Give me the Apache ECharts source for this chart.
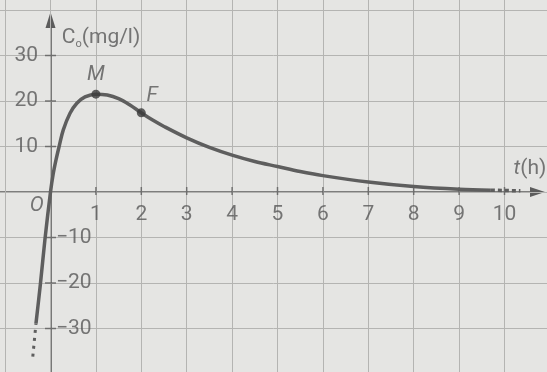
<!DOCTYPE html>
<html>
<head>
<meta charset="utf-8">
<script src="https://cdn.jsdelivr.net/npm/echarts@6/dist/echarts.min.js"></script>
<style>
  html, body { margin: 0; padding: 0; background: #e5e5e3; }
  #chart { width: 547px; height: 372px; }
</style>
</head>
<body>
<div id="chart"></div>
<script>
// curve C(t)
const curveT = [-0.32, -0.22, -0.12, 0, 0.06, 0.12, 0.19, 0.28, 0.43, 0.58, 0.76, 1.0, 1.25, 1.5, 1.75, 2.0, 2.25, 2.5, 3.0, 3.5, 4, 4.5, 5, 5.5, 6, 7, 8, 9, 9.7]
const curveC = [-28.9, -20.0, -10.2, 0, 4.0, 7.0, 10.0, 13.6, 17.3, 19.5, 20.9, 21.5, 21.3, 20.5, 19.1, 17.4, 15.8, 14.4, 11.9, 9.8, 8.1, 6.7, 5.6, 4.5, 3.6, 2.2, 1.2, 0.6, 0.4]
// dotted continuations
const leftDotT = [-0.39, -0.32]
const leftDotC = [-36.2, -28.9]
const rightDotT = [9.7, 10.35]
const rightDotC = [0.4, 0.25]

// marked points
const pointNames = ['M', 'F']
const pointT = [1.0, 2.0]
const pointC = [21.5, 17.4]

// tick labels
const xTicks = [1, 2, 3, 4, 5, 6, 7, 8, 9, 10]
const yTicksPos = [10, 20, 30]
const yTicksNeg = [-10, -20, -30]

// grid lines of the squared paper
const gridT = [-1, 0, 1, 2, 3, 4, 5, 6, 7, 8, 9, 10]
const gridC = [-30, -20, -10, 0, 10, 20, 30, 40]

// text annotations
const annoText = ['M', 'F', 'O']
const annoT = [1.0, 2.24, -0.3]
const annoC = [25.8, 21.1, -3.1]

const toPairs = (xs, ys) => xs.map((x, i) => [x, ys[i]])

const textColor = '#585858'
const lineColor = '#5c5c5c'
const font = 'Roboto'

// pixel scale of the figure: origin at (50.5, 192), 45.4 px per hour, 4.55 px per mg/l
const ox = 50.5, oy = 192, sx = 45.4, sy = 4.55

const chart = echarts.init(document.getElementById('chart'))

const option = {
  backgroundColor: '#e5e5e3',
  animation: false,
  grid: [
    { left: 0, top: 0, width: 547, height: 372, outerBoundsMode: 'none' },
    { left: 0, top: 20, width: 537.5, height: 352, outerBoundsMode: 'none' }
  ],
  xAxis: [
    {
      gridIndex: 0, type: 'value', min: -ox / sx, max: (547 - ox) / sx,
      axisLine: { show: false }, axisTick: { show: false }, axisLabel: { show: false }, splitLine: { show: false }
    },
    {
      gridIndex: 1, type: 'value', min: -ox / sx, max: (537.5 - ox) / sx,
      axisLine: { onZero: true, symbol: ['none', 'triangle'], symbolSize: [10, 15], lineStyle: { color: lineColor, width: 1.6 } },
      axisTick: { show: false }, axisLabel: { show: false }, splitLine: { show: false }
    }
  ],
  yAxis: [
    {
      gridIndex: 0, type: 'value', min: -(372 - oy) / sy, max: oy / sy,
      axisLine: { show: false }, axisTick: { show: false }, axisLabel: { show: false }, splitLine: { show: false }
    },
    {
      gridIndex: 1, type: 'value', min: -(372 - oy) / sy, max: (oy - 20) / sy,
      axisLine: { onZero: true, symbol: ['none', 'triangle'], symbolSize: [10, 16], lineStyle: { color: lineColor, width: 1.6 } },
      axisTick: { show: false }, axisLabel: { show: false }, splitLine: { show: false }
    }
  ],
  series: [
    {
      type: 'line',
      data: toPairs(curveT, curveC),
      smooth: 0.35,
      symbol: 'none',
      lineStyle: { color: '#5e5e5e', width: 3.5 },
      markLine: {
        silent: true,
        symbol: 'none',
        label: { show: false },
        lineStyle: { color: '#b4b4b2', width: 1, type: 'solid' },
        data: gridT.map(t => ({ xAxis: t })).concat(gridC.map(c => ({ yAxis: c }))),
        z: 1
      },
      z: 5
    },
    {
      type: 'line',
      data: toPairs(leftDotT, leftDotC),
      symbol: 'none',
      lineStyle: { color: '#5e5e5e', width: 3, type: [3, 5] },
      z: 5
    },
    {
      type: 'line',
      data: toPairs(rightDotT, rightDotC),
      symbol: 'none',
      lineStyle: { color: '#5e5e5e', width: 3.5, type: [4, 3] },
      z: 5
    },
    {
      // points M and F
      type: 'scatter',
      data: toPairs(pointT, pointC),
      symbol: 'circle',
      symbolSize: 9,
      itemStyle: { color: '#3a3a3a' },
      z: 6
    },
    {
      // x ticks
      type: 'scatter',
      data: xTicks.map(t => [t, 0]),
      symbol: 'rect',
      symbolSize: [1.5, 8],
      symbolOffset: [0, -1],
      itemStyle: { color: lineColor },
      label: {
        show: true, position: 'bottom', distance: 9,
        formatter: p => String(p.value[0]),
        color: textColor, fontSize: 21, fontFamily: font
      },
      z: 4
    },
    {
      // y ticks, positive side labels on the left
      type: 'scatter',
      data: yTicksPos.map(c => [0, c]),
      symbol: 'rect',
      symbolSize: [11, 1.5],
      itemStyle: { color: lineColor },
      label: {
        show: true, position: 'left', distance: 7,
        formatter: p => String(p.value[1]),
        color: textColor, fontSize: 21, fontFamily: font
      },
      z: 4
    },
    {
      // y ticks, negative side labels on the right
      type: 'scatter',
      data: yTicksNeg.map(c => [0, c]),
      symbol: 'rect',
      symbolSize: [11, 1.5],
      itemStyle: { color: lineColor },
      label: {
        show: true, position: 'right', distance: 0,
        formatter: p => '\u2212' + Math.abs(p.value[1]),
        color: textColor, fontSize: 21, fontFamily: font
      },
      z: 4
    },
    {
      // italic letters M, F, O
      type: 'scatter',
      data: annoT.map((t, i) => ({ value: [t, annoC[i]], name: annoText[i] })),
      symbolSize: 0,
      label: {
        show: true, position: 'inside',
        formatter: p => p.name,
        color: textColor, fontSize: 21, fontStyle: 'italic', fontFamily: font
      },
      z: 7
    },
    {
      // axis titles
      type: 'scatter',
      data: [
        { value: [0.25, 33.9], name: 'C' },
        { value: [10.92, 5.1], name: 't', label: { position: 'left' } }
      ],
      symbolSize: 0,
      label: {
        show: true,
        formatter: p => p.name === 'C' ? '{a|C}{s|o}{a|(mg/l)}' : '{i|t}{a|(h)}',
        position: 'right',
        distance: 0,
        color: textColor,
        fontFamily: font,
        rich: {
          a: { fontSize: 21, color: textColor, fontFamily: font },
          i: { fontSize: 21, fontStyle: 'italic', color: textColor, fontFamily: font },
          s: { fontSize: 11, color: textColor, fontFamily: font, padding: [13, 0, 0, 0] }
        }
      },
      z: 7
    }
  ]
}

chart.setOption(option)
</script>
</body>
</html>
